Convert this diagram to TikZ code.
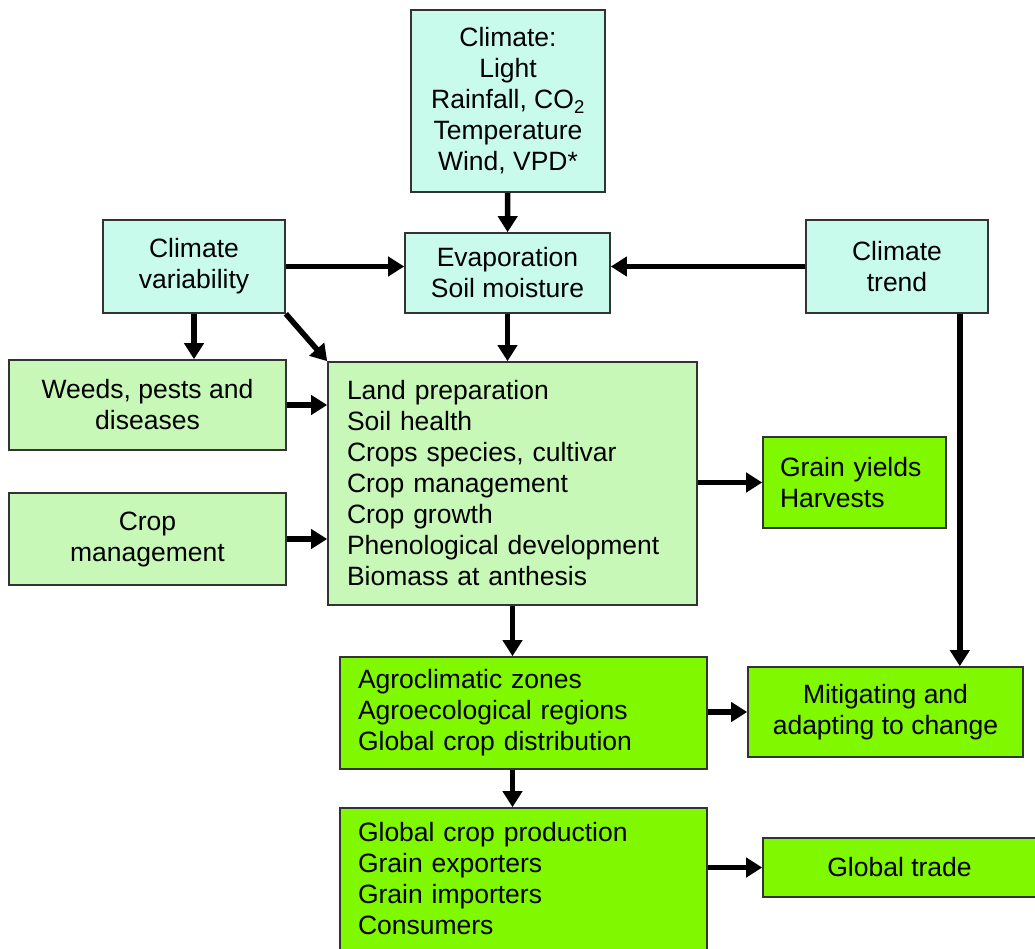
\documentclass[tikz,border=0pt]{standalone}
\usepackage{fontspec}
\setmainfont{Liberation Sans}
\usetikzlibrary{arrows.meta,positioning}

\definecolor{skyfill}{HTML}{C9FBEC}
\definecolor{palegreen}{HTML}{C8F8B8}
\definecolor{limegreen}{HTML}{80F800}

\tikzset{
    box/.style={draw=black!80, line width=1.6pt, inner sep=0pt, align=center,
        font=\fontsize{26.5}{31}\selectfont},
    skybox/.style={box, fill=skyfill},
    palebox/.style={box, fill=palegreen},
    limebox/.style={box, fill=limegreen},
    flow/.style={line width=5.5pt, -{Triangle[length=16pt,width=19pt]}}
}

\begin{document}
\begin{tikzpicture}[x=1pt,y=-1pt]
            \useasboundingbox (0,0) rectangle (1035,949);
            \node[skybox, minimum width=194, minimum height=182] (climate) at (508,101) {Climate:\\Light\\Rainfall, CO\textsubscript{2}\\Temperature\\Wind, VPD*};
            \node[skybox, minimum width=205, minimum height=80] (evap) at (507.5,273) {Evaporation\\Soil moisture};
            \node[skybox, minimum width=182, minimum height=93] (var) at (194,266.5) {Climate\\variability};
            \node[skybox, minimum width=182, minimum height=93] (trend) at (897,266.5) {Climate\\trend};
            \node[palebox, minimum width=277, minimum height=90] (weeds) at (147.5,405) {Weeds, pests and\\diseases};
            \node[palebox, minimum width=277, minimum height=92] (cropm) at (147.5,539) {Crop\\management};
            \node[palebox, minimum width=369, minimum height=243, text width=331, align=left] (central) at (512.5,483.5) {Land preparation\\Soil health\\Crops species, cultivar\\Crop management\\Crop growth\\Phenological development\\Biomass at anthesis};
            \node[limebox, minimum width=183, minimum height=91, text width=149, align=left] (grain) at (854.5,482.5) {Grain yields\\Harvests};
            \node[limebox, minimum width=367, minimum height=112, text width=331, align=left] (agro) at (523.5,713) {Agroclimatic zones\\Agroecological regions\\Global crop distribution};
            \node[limebox, minimum width=275, minimum height=90] (mitig) at (885.5,712) {Mitigating and\\adapting to change};
            \node[limebox, minimum width=367, minimum height=142, text width=331, align=left] (gcp) at (523.5,879) {Global crop production\\Grain exporters\\Grain importers\\Consumers};
            \node[limebox, minimum width=273, minimum height=59] (trade) at (899.5,867.5) {Global trade};
            \coordinate (trenddrop) at ([xshift=-29pt]trend.south east);

            \draw[flow] (climate) -- (evap);
            \draw[flow] (var.east) -- (var.east -| evap.west);
            \draw[flow] (trend.west) -- (trend.west -| evap.east);
            \draw[flow] (var.south) -- (var.south |- weeds.north);
            \draw[flow] (var.south east) -- (central.north west);
            \draw[flow] (evap.south) -- (evap.south |- central.north);
            \draw[flow] (weeds.east) -- (weeds.east -| central.west);
            \draw[flow] (cropm.east) -- (cropm.east -| central.west);
            \draw[flow] (central.east |- grain.west) -- (grain.west);
            \draw[flow] (central.south) -- (central.south |- agro.north);
            \draw[flow] (trenddrop) -- (trenddrop |- mitig.north);
            \draw[flow] (agro.east |- mitig.west) -- (mitig.west);
            \draw[flow] (central.south |- agro.south) -- (central.south |- gcp.north);
            \draw[flow] (gcp.east |- trade.west) -- (trade.west);
        \end{tikzpicture}
\end{document}
